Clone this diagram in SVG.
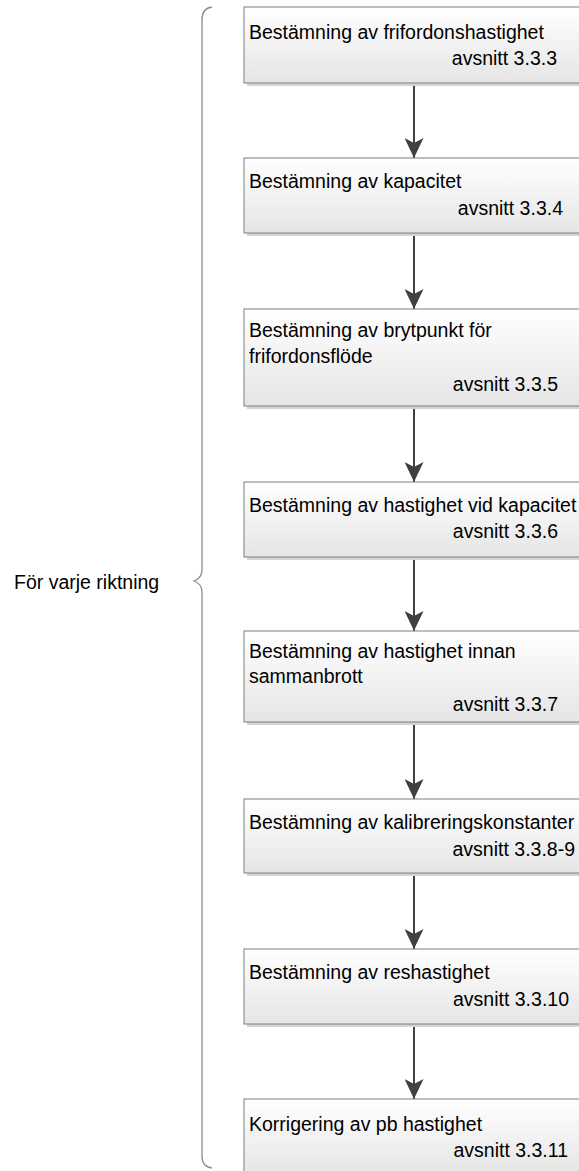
<svg xmlns="http://www.w3.org/2000/svg" width="579" height="1171" viewBox="0 0 579 1171">
<style>
.box{fill:url(#g);stroke:#7f7f7f;stroke-width:1}
.sh{fill:#d4d4d4}
.t{font-family:"Liberation Sans",Arial,sans-serif;font-size:19.5px;fill:#000}
.r{text-anchor:end}
.c{stroke:#404040;stroke-width:2;fill:none;marker-end:url(#ah)}
.br{stroke:#8c8c8c;stroke-width:1.3;fill:none}
</style>
<defs>
<linearGradient id="g" x1="0" y1="0" x2="0" y2="1">
<stop offset="0" stop-color="#ffffff"/>
<stop offset="1" stop-color="#e5e5e5"/>
</linearGradient>
<marker id="ah" markerUnits="userSpaceOnUse" viewBox="0 0 20 19" refX="20" refY="9.5" markerWidth="20" markerHeight="19" orient="auto">
<path d="M0,0 L20,9.5 L0,19 L5,9.5 Z" fill="#404040"/>
</marker>
</defs>
<g id="connectors">
<line class="c" x1="414" y1="83" x2="414" y2="158"/>
<line class="c" x1="414" y1="233" x2="414" y2="309"/>
<line class="c" x1="414" y1="406" x2="414" y2="482"/>
<line class="c" x1="414" y1="557" x2="414" y2="631"/>
<line class="c" x1="414" y1="722" x2="414" y2="799"/>
<line class="c" x1="414" y1="873" x2="414" y2="949"/>
<line class="c" x1="414" y1="1024" x2="414" y2="1099"/>
</g>
<g id="brace">
<path class="br" d="M212,7 Q202,8 202,20 L202,570 Q202,578 194,581 Q202,584 202,592 L202,1156 Q202,1167 212,1168"/>
<text class="t" x="14" y="589">För varje riktning</text>
</g>
<g id="n1">
<rect class="sh" x="247" y="10" width="340" height="76"/>
<rect class="box" x="244" y="7" width="340" height="76"/>
<text class="t" x="249" y="39">Bestämning av frifordonshastighet</text>
<text class="t r" x="557" y="65">avsnitt 3.3.3</text>
</g>
<g id="n2">
<rect class="sh" x="247" y="161" width="340" height="75"/>
<rect class="box" x="244" y="158" width="340" height="75"/>
<text class="t" x="249" y="188">Bestämning av kapacitet</text>
<text class="t r" x="563" y="215">avsnitt 3.3.4</text>
</g>
<g id="n3">
<rect class="sh" x="247" y="312" width="340" height="97"/>
<rect class="box" x="244" y="309" width="340" height="97"/>
<text class="t" x="249" y="337">Bestämning av brytpunkt för</text>
<text class="t" x="249" y="363">frifordonsflöde</text>
<text class="t r" x="558" y="391">avsnitt 3.3.5</text>
</g>
<g id="n4">
<rect class="sh" x="247" y="485" width="340" height="75"/>
<rect class="box" x="244" y="482" width="340" height="75"/>
<text class="t" x="249" y="512">Bestämning av hastighet vid kapacitet</text>
<text class="t r" x="558" y="538">avsnitt 3.3.6</text>
</g>
<g id="n5">
<rect class="sh" x="247" y="634" width="340" height="91"/>
<rect class="box" x="244" y="631" width="340" height="91"/>
<text class="t" x="249" y="658">Bestämning av hastighet innan</text>
<text class="t" x="249" y="683">sammanbrott</text>
<text class="t r" x="558" y="711">avsnitt 3.3.7</text>
</g>
<g id="n6">
<rect class="sh" x="247" y="802" width="340" height="74"/>
<rect class="box" x="244" y="799" width="340" height="74"/>
<text class="t" x="249" y="829">Bestämning av kalibreringskonstanter</text>
<text class="t r" x="575" y="856">avsnitt 3.3.8-9</text>
</g>
<g id="n7">
<rect class="sh" x="247" y="952" width="340" height="75"/>
<rect class="box" x="244" y="949" width="340" height="75"/>
<text class="t" x="249" y="979">Bestämning av reshastighet</text>
<text class="t r" x="569" y="1006">avsnitt 3.3.10</text>
</g>
<g id="n8">
<rect class="sh" x="247" y="1102" width="340" height="76"/>
<rect class="box" x="244" y="1099" width="340" height="76"/>
<text class="t" x="249" y="1131">Korrigering av pb hastighet</text>
<text class="t r" x="568" y="1157">avsnitt 3.3.11</text>
</g>
</svg>
